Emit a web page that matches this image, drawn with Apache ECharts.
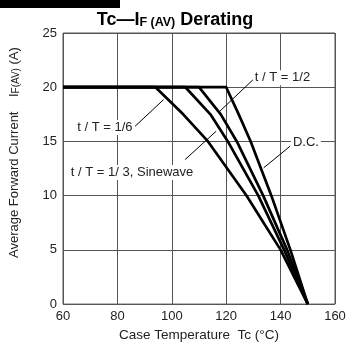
<!DOCTYPE html>
<html><head><meta charset="utf-8">
<script src="https://cdn.jsdelivr.net/npm/echarts@6/dist/echarts.min.js"></script>
<style>html,body{margin:0;padding:0;background:#fff}#c{width:350px;height:347px}</style>
</head><body><div id="c"></div>
<script>
// Data
const currentLevels = [20, 20, 17.5, 15, 10, 5, 0];
const tempDC    = [60, 120, 124.6, 129.0, 136.6, 143.6, 150];
const tempHalf  = [60, 110, 118.0, 123.9, 133.6, 142.4, 150];
const tempThird = [60, 105, 114.2, 120.6, 131.8, 141.3, 150];
const tempSixth = [60, 94, 104.2, 113.3, 127.5, 140, 150];
const xTicks = [60, 80, 100, 120, 140, 160];
const yTicks = [0, 5, 10, 15, 20, 25];
const labelTexts = ['t / T = 1/2', 't / T = 1/6', 't / T = 1/ 3, Sinewave', 'D.C.'];
const labelAt = [[140.7, 20.88], [75.4, 16.28], [85.4, 12.14], [149.3, 14.9]];
const arrowFrom = [[129.9, 20.7], [86.5, 16.4], [104.9, 13.33], [143.5, 14.56]];
const arrowTo   = [[117.5, 17.75], [97.0, 18.86], [116.3, 15.94], [133.8, 12.57]];

const FONT = '"Liberation Sans", Arial, sans-serif';
const chart = echarts.init(document.getElementById('c'), null, {renderer: 'canvas'});
function pts(xs) { return xs.map((x, i) => [x, currentLevels[i]]); }
function curve(name, xs) {
  return {name, type: 'line', data: pts(xs), symbol: 'none', smooth: false,
    lineStyle: {color: '#000', width: 2.7, join: 'round'}, z: 3, animation: false};
}
const grid = {left: 63, right: 15, top: 33, bottom: 42.5, show: true, borderColor: '#555', borderWidth: 1};
chart.setOption({
  animation: false,
  backgroundColor: '#fff',
  title: {
    text: '{b|Tc—I}{s|F (AV)}{b| Derating}',
    left: 'center', top: 2,
    textStyle: {
      rich: {
        b: {fontFamily: FONT, fontSize: 18, fontWeight: 'bold', color: '#000', lineHeight: 22, verticalAlign: 'bottom'},
        s: {fontFamily: FONT, fontSize: 12.5, fontWeight: 'bold', color: '#000', lineHeight: 22, verticalAlign: 'bottom', padding: [4, 0, 0, 0]}
      }
    }
  },
  grid,
  xAxis: {
    type: 'value', min: 60, max: 160, interval: 20,
    name: 'Case Temperature  Tc (°C)', nameLocation: 'middle', nameGap: 22,
    nameTextStyle: {fontFamily: FONT, fontSize: 13.5, color: '#222'},
    axisLine: {show: false}, axisTick: {show: false},
    axisLabel: {fontFamily: FONT, fontSize: 13, color: '#222', margin: 6,
      formatter: v => xTicks.includes(v) ? String(v) : ''},
    splitLine: {show: true, lineStyle: {color: '#555', width: 1}}
  },
  yAxis: {
    type: 'value', min: 0, max: 25, interval: 5,
    name: 'Average Forward Current    {i|I}{s|F(AV)}{n| (A)}', nameLocation: 'middle', nameGap: 42,
    nameTextStyle: {fontFamily: FONT, fontSize: 13, color: '#222', padding: [0, 0, 0, 32],
      rich: {
        i: {fontFamily: FONT, fontSize: 13, color: '#222'},
        s: {fontFamily: FONT, fontSize: 10, color: '#222', padding: [3, 0, 0, 0]},
        n: {fontFamily: FONT, fontSize: 13, color: '#222'}
      }},
    axisLine: {show: false}, axisTick: {show: false},
    axisLabel: {fontFamily: FONT, fontSize: 13, color: '#222', margin: 6,
      formatter: v => yTicks.includes(v) ? String(v) : ''},
    splitLine: {show: true, lineStyle: {color: '#555', width: 1}}
  },
  series: [
    curve('t/T=1/6', tempSixth),
    curve('t/T=1/3', tempThird),
    curve('t/T=1/2', tempHalf),
    curve('D.C.', tempDC),
    {
      name: 'annot', type: 'line', data: [], z: 4,
      markLine: {
        silent: true, animation: false,
        symbol: ['none', 'arrow'], symbolSize: [0, 7],
        label: {show: false},
        lineStyle: {color: '#000', width: 1, type: 'solid'},
        data: arrowFrom.map((f, i) => [{coord: f}, {coord: arrowTo[i]}])
      }
    }
  ]
});
const g = labelTexts.map((t, i) => {
  const p = chart.convertToPixel({gridIndex: 0}, labelAt[i]);
  return {type: 'text', x: p[0], y: p[1], z: 10,
    style: {text: t, fontFamily: FONT, fontSize: 13, fill: '#222', align: 'center', verticalAlign: 'middle',
      backgroundColor: '#fff', padding: [1, 2, 1, 2]}};
});
g.unshift({type: 'rect', shape: {x: 0, y: 0, width: 120, height: 8}, style: {fill: '#000'}});
chart.setOption({graphic: g});
</script></body></html>
